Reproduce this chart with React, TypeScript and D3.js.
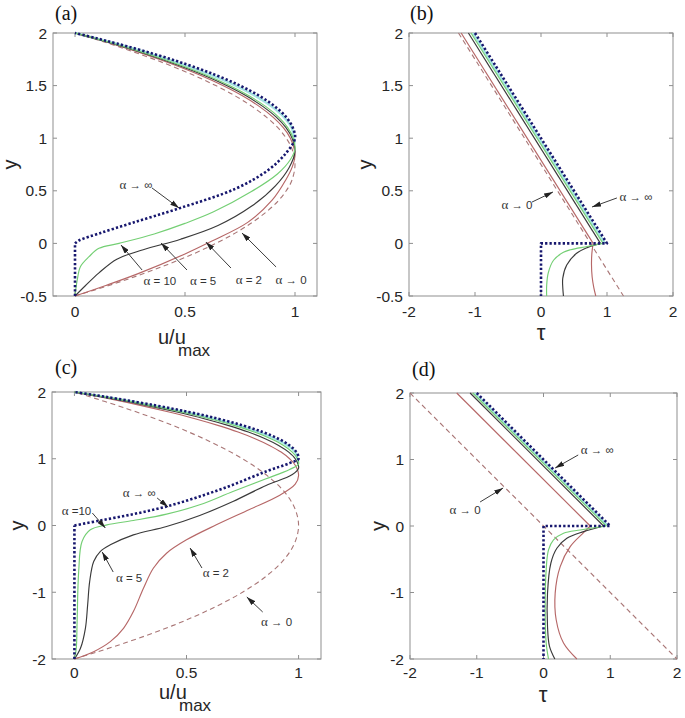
import React from "react";
import * as d3 from "d3";

type P = [number, number];

// ---------- tick values ----------
const uTicks = [0, 0.5, 1];
const tauTicks = [-2, -1, 0, 1, 2];
const yTicksTop = [-0.5, 0, 0.5, 1, 1.5, 2];
const yTicksBottom = [-2, -1, 0, 1, 2];

// ---------- panel (a): u/umax vs y ----------
const aInfWall: P[] = [[0, -0.5], [0, 0]];
const aInf: P[] = [[0, 0], [0.02, 0.03], [0.11, 0.095], [0.26, 0.195], [0.473, 0.333], [0.73, 0.52], [0.88, 0.7], [0.96, 0.86], [1, 1], [0.99, 1.1], [0.96, 1.2], [0.91, 1.3], [0.84, 1.4], [0.75, 1.5], [0.64, 1.6], [0.51, 1.7], [0.36, 1.8], [0.19, 1.9], [0.0975, 1.95], [0, 2]];
const aCyan: P[] = [[0.998, 0.95], [0.985, 1.1], [0.95, 1.2], [0.895, 1.3], [0.822, 1.4], [0.73, 1.5], [0.62, 1.6], [0.492, 1.7], [0.347, 1.8], [0.183, 1.9], [0.093, 1.95], [0, 2]];
const aAlpha10: P[] = [[0, -0.5], [0.01, -0.35], [0.025, -0.22], [0.064, -0.126], [0.109, -0.047], [0.2, 0], [0.36, 0.09], [0.5, 0.19], [0.63, 0.3], [0.8, 0.49], [0.92, 0.66], [0.98, 0.8], [1.0, 0.9], [0.992, 1.0], [0.967, 1.1], [0.926, 1.2], [0.868, 1.3], [0.793, 1.4], [0.702, 1.5], [0.595, 1.6], [0.471, 1.7], [0.331, 1.8], [0.174, 1.9], [0.089, 1.95], [0, 2]];
const aAlpha5: P[] = [[0, -0.5], [0.048, -0.4], [0.109, -0.28], [0.19, -0.15], [0.31, -0.06], [0.48, 0.04], [0.65, 0.17], [0.8, 0.35], [0.912, 0.55], [0.973, 0.72], [1.0, 0.87], [0.987, 1.0], [0.959, 1.1], [0.915, 1.2], [0.855, 1.3], [0.78, 1.4], [0.689, 1.5], [0.583, 1.6], [0.46, 1.7], [0.323, 1.8], [0.169, 1.9], [0.087, 1.95], [0, 2]];
const aAlpha2: P[] = [[0, -0.5], [0.14, -0.4], [0.29, -0.285], [0.5, -0.1], [0.62, 0.02], [0.785, 0.2], [0.897, 0.413], [0.958, 0.603], [0.988, 0.73], [1.0, 0.83], [0.996, 0.9], [0.979, 1.0], [0.947, 1.1], [0.9, 1.2], [0.839, 1.3], [0.763, 1.4], [0.672, 1.5], [0.567, 1.6], [0.447, 1.7], [0.313, 1.8], [0.164, 1.9], [0.084, 1.95], [0, 2]];
const aAlpha0: P[] = [[0, -0.5], [0.154, -0.4], [0.294, -0.3], [0.422, -0.2], [0.538, -0.1], [0.64, 0], [0.73, 0.1], [0.806, 0.2], [0.87, 0.3], [0.922, 0.4], [0.96, 0.5], [0.986, 0.6], [1, 0.75], [0.986, 0.9], [0.96, 1.0], [0.922, 1.1], [0.87, 1.2], [0.806, 1.3], [0.73, 1.4], [0.64, 1.5], [0.538, 1.6], [0.422, 1.7], [0.294, 1.8], [0.154, 1.9], [0.078, 1.95], [0, 2]];

// ---------- panel (b): tau vs y ----------
const bInf: P[] = [[-1, 2], [1, 0], [0, 0], [0, -0.5]];
const bCyan: P[] = [[-1.03, 2], [0.97, 0]];
const bAlpha10Line: P[] = [[-1.06, 2], [0.94, 0]];
const bAlpha10Low: P[] = [[0.94, 0], [0.7, -0.03], [0.45, -0.06], [0.34, -0.085], [0.19, -0.16], [0.11, -0.28], [0.086, -0.4], [0.086, -0.5]];
const bAlpha5Line: P[] = [[-1.1, 2], [0.9, 0]];
const bAlpha5Low: P[] = [[0.9, 0], [0.7, -0.04], [0.54, -0.094], [0.39, -0.205], [0.33, -0.33], [0.33, -0.42], [0.34, -0.5]];
const bAlpha2Line: P[] = [[-1.21, 2], [0.79, 0]];
const bAlpha2Low: P[] = [[0.79, 0], [0.77, -0.1], [0.765, -0.2], [0.775, -0.32], [0.8, -0.42], [0.83, -0.5]];
const bAlpha0: P[] = [[-1.25, 2], [1.25, -0.5]];

// ---------- panel (c): u/umax vs y ----------
const cInfWall: P[] = [[0, -2], [0, 0]];
const cInf: P[] = [[0, 0], [0.115, 0.075], [0.263, 0.17], [0.411, 0.285], [0.559, 0.435], [0.707, 0.61], [0.855, 0.81], [0.96, 0.935], [1, 1.0], [0.99, 1.1], [0.96, 1.2], [0.91, 1.3], [0.84, 1.4], [0.75, 1.5], [0.64, 1.6], [0.51, 1.7], [0.36, 1.8], [0.19, 1.9], [0.0975, 1.95], [0, 2]];
const cCyan: P[] = [[0.998, 0.95], [0.985, 1.1], [0.95, 1.2], [0.895, 1.3], [0.822, 1.4], [0.73, 1.5], [0.62, 1.6], [0.492, 1.7], [0.347, 1.8], [0.183, 1.9], [0.093, 1.95], [0, 2]];
const cAlpha10: P[] = [[0, -2], [0.008, -1.85], [0.012, -1.44], [0.019, -0.69], [0.034, -0.24], [0.071, -0.065], [0.145, 0.01], [0.263, 0.075], [0.411, 0.17], [0.559, 0.31], [0.707, 0.51], [0.855, 0.7], [0.96, 0.84], [1, 0.92], [0.995, 1.0], [0.972, 1.1], [0.933, 1.2], [0.876, 1.3], [0.802, 1.4], [0.712, 1.5], [0.604, 1.6], [0.478, 1.7], [0.336, 1.8], [0.177, 1.9], [0.09, 1.95], [0, 2]];
const cAlpha5: P[] = [[0, -2], [0.027, -1.84], [0.049, -1.54], [0.059, -1.19], [0.068, -0.84], [0.086, -0.54], [0.115, -0.39], [0.16, -0.29], [0.263, -0.14], [0.411, -0.015], [0.559, 0.15], [0.707, 0.36], [0.855, 0.6], [0.97, 0.76], [1, 0.86], [0.985, 1.0], [0.956, 1.1], [0.911, 1.2], [0.851, 1.3], [0.776, 1.4], [0.685, 1.5], [0.579, 1.6], [0.457, 1.7], [0.32, 1.8], [0.168, 1.9], [0.086, 1.95], [0, 2]];
const cAlpha2: P[] = [[0, -2], [0.086, -1.89], [0.16, -1.74], [0.219, -1.54], [0.263, -1.29], [0.308, -0.94], [0.352, -0.64], [0.411, -0.415], [0.5, -0.215], [0.633, 0.01], [0.781, 0.24], [0.914, 0.45], [0.985, 0.62], [1, 0.75], [0.986, 0.9], [0.96, 1.0], [0.922, 1.1], [0.87, 1.2], [0.806, 1.3], [0.73, 1.4], [0.64, 1.5], [0.538, 1.6], [0.422, 1.7], [0.294, 1.8], [0.154, 1.9], [0.078, 1.95], [0, 2]];
const cAlpha0: P[] = [[0, -2], [0.234, -1.75], [0.438, -1.5], [0.609, -1.25], [0.75, -1], [0.859, -0.75], [0.938, -0.5], [0.984, -0.25], [1, 0], [0.984, 0.25], [0.938, 0.5], [0.859, 0.75], [0.75, 1], [0.609, 1.25], [0.438, 1.5], [0.234, 1.75], [0, 2]];

// ---------- panel (d): tau vs y ----------
const dInf: P[] = [[-1, 2], [1, 0], [0, 0], [0, -2]];
const dCyan: P[] = [[-1.03, 2], [0.97, 0]];
const dAlpha10Line: P[] = [[-1.06, 2], [0.94, 0]];
const dAlpha10Low: P[] = [[0.94, 0], [0.55, -0.06], [0.3, -0.11], [0.15, -0.21], [0.075, -0.36], [0.04, -0.66], [0.025, -1.26], [0.04, -1.76], [0.075, -2]];
const dAlpha5Line: P[] = [[-1.1, 2], [0.9, 0]];
const dAlpha5Low: P[] = [[0.9, 0], [0.6, -0.085], [0.35, -0.185], [0.2, -0.335], [0.11, -0.56], [0.06, -1.01], [0.06, -1.51], [0.09, -1.81], [0.17, -2]];
const dAlpha2Line: P[] = [[-1.3, 2], [0.7, 0]];
const dAlpha2Low: P[] = [[0.7, 0], [0.6, -0.1], [0.4, -0.31], [0.25, -0.61], [0.175, -1.01], [0.19, -1.41], [0.3, -1.76], [0.5, -2]];
const dAlpha0: P[] = [[-2, 2], [2, -2]];

// ---------- styles ----------
const C = {
  inf: "#17176e",
  cyan: "#a6e3e3",
  a10: "#74cf74",
  a5: "#3a3a3a",
  a2: "#b66767",
  a0: "#a97676",
  box: "#8f8f8f",
  text: "#262626",
  note: "#333333",
};

type S = { d: P[]; color: string; w: number; dash?: string; smooth: boolean };
type Note = { g: string; rest: string; tx: number; ty: number; x1: number; y1: number; x2: number; y2: number };
type Def = {
  label: string;
  l: number; r: number; t: number; b: number;
  xDomain: [number, number]; yDomain: [number, number];
  xTicks: number[]; yTicks: number[];
  tickOff: number;
  xLabel: "u" | "tau";
  xLabelX: number; xLabelY: number;
  yLabelX: number;
  labelX: number; labelY: number;
  series: S[];
  notes: Note[];
};

const DOT = "2.3 2.1";
const DASH = "5 3.5";

const sol = (d: P[], color: string, w = 1.15): S => ({ d, color, w, smooth: true });
const lin = (d: P[], color: string, w = 1.15, dash?: string): S => ({ d, color, w, dash, smooth: false });

const panels: Def[] = [
  {
    label: "(a)", l: 53, r: 317, t: 33, b: 296,
    xDomain: [-0.1, 1.1], yDomain: [-0.5, 2], xTicks: uTicks, yTicks: yTicksTop, tickOff: 21,
    xLabel: "u", xLabelX: 185, xLabelY: 344, yLabelX: 17, labelX: 55, labelY: 20,
    series: [
      { d: aCyan, color: C.cyan, w: 2.4, smooth: true },
      { d: aAlpha0, color: C.a0, w: 1.1, dash: DASH, smooth: true },
      sol(aAlpha2, C.a2), sol(aAlpha5, C.a5), sol(aAlpha10, C.a10),
      lin(aInfWall, C.inf, 2.6, DOT),
      { d: aInf, color: C.inf, w: 2.6, dash: DOT, smooth: true },
    ],
    notes: [
      { g: "\u03b1", rest: " \u2192 \u221e", tx: 0.277, ty: 0.555, x1: 0.35, y1: 0.527, x2: 0.473, y2: 0.336 },
      { g: "\u03b1", rest: " = 10", tx: 0.386, ty: -0.357, x1: 0.305, y1: -0.253, x2: 0.209, y2: -0.015 },
      { g: "\u03b1", rest: " = 5", tx: 0.582, ty: -0.357, x1: 0.509, y1: -0.253, x2: 0.391, y2: 0.004 },
      { g: "\u03b1", rest: " = 2", tx: 0.79, ty: -0.348, x1: 0.709, y1: -0.234, x2: 0.595, y2: 0.013 },
      { g: "\u03b1", rest: " \u2192 0", tx: 0.982, ty: -0.348, x1: 0.914, y1: -0.224, x2: 0.759, y2: 0.099 },
    ],
  },
  {
    label: "(b)", l: 409, r: 673, t: 33, b: 296,
    xDomain: [-2, 2], yDomain: [-0.5, 2], xTicks: tauTicks, yTicks: yTicksTop, tickOff: 21,
    xLabel: "tau", xLabelX: 541, xLabelY: 340, yLabelX: 372, labelX: 410, labelY: 20,
    series: [
      lin(bCyan, C.cyan, 2.4),
      lin(bAlpha0, C.a0, 1.1, DASH),
      lin(bAlpha2Line, C.a2), sol(bAlpha2Low, C.a2),
      lin(bAlpha5Line, C.a5), sol(bAlpha5Low, C.a5),
      lin(bAlpha10Line, C.a10), sol(bAlpha10Low, C.a10),
      lin(bInf, C.inf, 2.6, DOT),
    ],
    notes: [
      { g: "\u03b1", rest: " \u2192 0", tx: -0.364, ty: 0.365, x1: -0.136, y1: 0.393, x2: 0.182, y2: 0.489 },
      { g: "\u03b1", rest: " \u2192 \u221e", tx: 1.44, ty: 0.441, x1: 1.15, y1: 0.432, x2: 0.773, y2: 0.346 },
    ],
  },
  {
    label: "(c)", l: 52, r: 321, t: 392, b: 659,
    xDomain: [-0.1, 1.1], yDomain: [-2, 2], xTicks: uTicks, yTicks: yTicksBottom, tickOff: 19,
    xLabel: "u", xLabelX: 186, xLabelY: 699, yLabelX: 24, labelX: 55, labelY: 374,
    series: [
      { d: cCyan, color: C.cyan, w: 2.4, smooth: true },
      { d: cAlpha0, color: C.a0, w: 1.1, dash: DASH, smooth: true },
      sol(cAlpha2, C.a2), sol(cAlpha5, C.a5), sol(cAlpha10, C.a10),
      lin(cInfWall, C.inf, 2.6, DOT),
      { d: cInf, color: C.inf, w: 2.6, dash: DOT, smooth: true },
    ],
    notes: [
      { g: "\u03b1", rest: " \u2192 \u221e", tx: 0.289, ty: 0.487, x1: 0.369, y1: 0.412, x2: 0.418, y2: 0.277 },
      { g: "\u03b1", rest: " =10", tx: 0.009, ty: 0.217, x1: 0.08, y1: 0.187, x2: 0.138, y2: -0.037 },
      { g: "\u03b1", rest: " = 5", tx: 0.244, ty: -0.787, x1: 0.173, y1: -0.697, x2: 0.124, y2: -0.397 },
      { g: "\u03b1", rest: " = 2", tx: 0.631, ty: -0.712, x1: 0.569, y1: -0.637, x2: 0.516, y2: -0.337 },
      { g: "\u03b1", rest: " \u2192 0", tx: 0.902, ty: -1.446, x1: 0.84, y1: -1.296, x2: 0.769, y2: -1.071 },
    ],
  },
  {
    label: "(d)", l: 410, r: 677, t: 393, b: 659,
    xDomain: [-2, 2], yDomain: [-2, 2], xTicks: tauTicks, yTicks: yTicksBottom, tickOff: 19,
    xLabel: "tau", xLabelX: 543, xLabelY: 702, yLabelX: 385, labelX: 412, labelY: 376,
    series: [
      lin(dCyan, C.cyan, 2.4),
      lin(dAlpha0, C.a0, 1.1, DASH),
      lin(dAlpha2Line, C.a2), sol(dAlpha2Low, C.a2),
      lin(dAlpha5Line, C.a5), sol(dAlpha5Low, C.a5),
      lin(dAlpha10Line, C.a10), sol(dAlpha10Low, C.a10),
      lin(dInf, C.inf, 2.6, DOT),
    ],
    notes: [
      { g: "\u03b1", rest: " \u2192 \u221e", tx: 0.805, ty: 1.143, x1: 0.52, y1: 1.068, x2: 0.175, y2: 0.872 },
      { g: "\u03b1", rest: " \u2192 0", tx: -1.175, ty: 0.241, x1: -0.95, y1: 0.361, x2: -0.605, y2: 0.571 },
    ],
  },
];

const SANS = "'Liberation Sans', Arial, Helvetica, sans-serif";
const SERIF = "'Liberation Serif', 'Times New Roman', serif";

function Panel({ def, idx }: { def: Def; idx: number }) {
  const x = d3.scaleLinear().domain(def.xDomain).range([def.l, def.r]);
  const y = d3.scaleLinear().domain(def.yDomain).range([def.b, def.t]);
  const smooth = d3.line<P>().x((d) => x(d[0])).y((d) => y(d[1])).curve(d3.curveCatmullRom.alpha(0.5));
  const straight = d3.line<P>().x((d) => x(d[0])).y((d) => y(d[1]));
  const clipId = `clip${idx}`;
  const tl = 4;
  return (
    <g>
      <defs>
        <clipPath id={clipId}>
          <rect x={def.l} y={def.t - 2} width={def.r - def.l} height={def.b - def.t + 4} />
        </clipPath>
      </defs>
      <rect x={def.l} y={def.t} width={def.r - def.l} height={def.b - def.t} fill="#fff" stroke={C.box} strokeWidth={1} />
      {def.xTicks.map((v) => (
        <g key={"xt" + v}>
          <line x1={x(v)} x2={x(v)} y1={def.b} y2={def.b - tl} stroke={C.box} />
          <line x1={x(v)} x2={x(v)} y1={def.t} y2={def.t + tl} stroke={C.box} />
          <text x={x(v)} y={def.b + def.tickOff} textAnchor="middle" fontFamily={SANS} fontSize={15.5} fill={C.text}>{String(v)}</text>
        </g>
      ))}
      {def.yTicks.map((v) => (
        <g key={"yt" + v}>
          <line x1={def.l} x2={def.l + tl} y1={y(v)} y2={y(v)} stroke={C.box} />
          <line x1={def.r} x2={def.r - tl} y1={y(v)} y2={y(v)} stroke={C.box} />
          <text x={def.l - 6} y={y(v) + 5.5} textAnchor="end" fontFamily={SANS} fontSize={15.5} fill={C.text}>{String(v)}</text>
        </g>
      ))}
      <g clipPath={`url(#${clipId})`}>
        {def.series.map((s, i) => (
          <path key={i} d={(s.smooth ? smooth : straight)(s.d) || ""} fill="none" stroke={s.color}
            strokeWidth={s.w} strokeDasharray={s.dash} strokeLinejoin="round" />
        ))}
      </g>
      {def.notes.map((n, i) => (
        <g key={"n" + i}>
          <line x1={x(n.x1)} y1={y(n.y1)} x2={x(n.x2)} y2={y(n.y2)} stroke="#3c3c3c" strokeWidth={1} markerEnd="url(#arrowHead)" />
          <text x={x(n.tx)} y={y(n.ty) + 4} textAnchor="middle" fontSize={11.5} fill={C.note} fontFamily={SANS}>
            <tspan fontFamily={SERIF} fontSize={13}>{n.g}</tspan>
            <tspan>{n.rest}</tspan>
          </text>
        </g>
      ))}
      <text x={def.labelX} y={def.labelY} fontFamily={SERIF} fontSize={20} fill="#111">{def.label}</text>
      <text transform={`translate(${def.yLabelX},${(def.t + def.b) / 2}) rotate(-90)`} textAnchor="middle"
        fontFamily={SANS} fontSize={20} fill={C.text}>y</text>
      {def.xLabel === "u" ? (
        <g>
          <text x={def.xLabelX - 27} y={def.xLabelY} fontFamily={SANS} fontSize={20} fill={C.text}>u/u</text>
          <text x={def.xLabelX - 7} y={def.xLabelY + 12} fontFamily={SANS} fontSize={17} fill={C.text}>max</text>
        </g>
      ) : (
        <text x={def.xLabelX} y={def.xLabelY} textAnchor="middle" fontFamily={SANS} fontSize={22} fill={C.text}>{"\u03c4"}</text>
      )}
    </g>
  );
}

export default function App() {
  return (
    <svg width={685} height={718} viewBox="0 0 685 718"
      style={{ position: "absolute", left: 0, top: 0, background: "#fff" }}>
      <defs>
        <marker id="arrowHead" viewBox="0 0 10 6" refX={10} refY={3} markerWidth={9} markerHeight={5.5}
          orient="auto" markerUnits="userSpaceOnUse">
          <path d="M0,0 L10,3 L0,6 z" fill="#222" />
        </marker>
      </defs>
      <rect x={0} y={0} width={685} height={718} fill="#fff" />
      {panels.map((p, i) => (
        <Panel key={i} def={p} idx={i} />
      ))}
    </svg>
  );
}
